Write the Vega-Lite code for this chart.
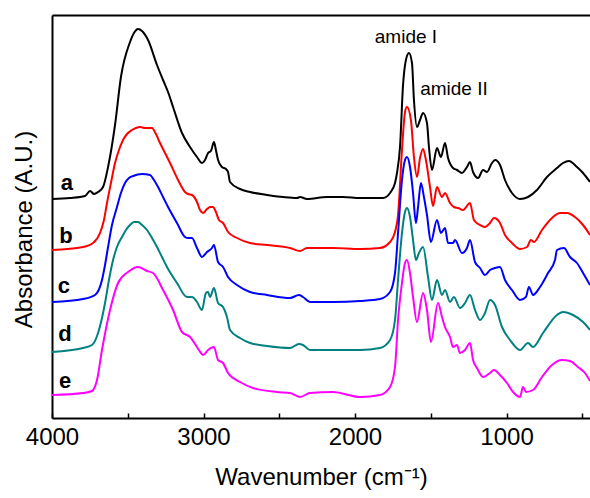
{
  "$schema": "https://vega.github.io/schema/vega-lite/v6.json",
  "width": 538,
  "height": 403,
  "autosize": {"type": "none"},
  "padding": {"left": 52, "top": 15, "right": 0, "bottom": 80},
  "background": "white",
  "config": {"view": {"stroke": null}, "font": "Liberation Sans"},
  "datasets": {
    "spectra": [
      {"sample":"a","wavenumber":4000,"absorbance":219},{"sample":"a","wavenumber":3881,"absorbance":220},{"sample":"a","wavenumber":3782,"absorbance":222},{"sample":"a","wavenumber":3749,"absorbance":227},{"sample":"a","wavenumber":3723,"absorbance":224},{"sample":"a","wavenumber":3696,"absorbance":226},{"sample":"a","wavenumber":3663,"absorbance":231},{"sample":"a","wavenumber":3630,"absorbance":251},{"sample":"a","wavenumber":3584,"absorbance":293},{"sample":"a","wavenumber":3545,"absorbance":341},{"sample":"a","wavenumber":3485,"absorbance":376},{"sample":"a","wavenumber":3459,"absorbance":385},{"sample":"a","wavenumber":3432,"absorbance":389},{"sample":"a","wavenumber":3406,"absorbance":387},{"sample":"a","wavenumber":3366,"absorbance":378},{"sample":"a","wavenumber":3307,"absorbance":353},{"sample":"a","wavenumber":3267,"absorbance":338},{"sample":"a","wavenumber":3234,"absorbance":326},{"sample":"a","wavenumber":3201,"absorbance":311},{"sample":"a","wavenumber":3142,"absorbance":285},{"sample":"a","wavenumber":3089,"absorbance":271},{"sample":"a","wavenumber":3043,"absorbance":261},{"sample":"a","wavenumber":3010,"absorbance":255},{"sample":"a","wavenumber":2990,"absorbance":258},{"sample":"a","wavenumber":2970,"absorbance":265},{"sample":"a","wavenumber":2951,"absorbance":267},{"sample":"a","wavenumber":2931,"absorbance":276},{"sample":"a","wavenumber":2918,"absorbance":268},{"sample":"a","wavenumber":2904,"absorbance":258},{"sample":"a","wavenumber":2878,"absorbance":251},{"sample":"a","wavenumber":2852,"absorbance":249},{"sample":"a","wavenumber":2838,"absorbance":246},{"sample":"a","wavenumber":2825,"absorbance":236},{"sample":"a","wavenumber":2759,"absorbance":229},{"sample":"a","wavenumber":2693,"absorbance":226},{"sample":"a","wavenumber":2581,"absorbance":223},{"sample":"a","wavenumber":2475,"absorbance":221},{"sample":"a","wavenumber":2383,"absorbance":220},{"sample":"a","wavenumber":2363,"absorbance":221},{"sample":"a","wavenumber":2317,"absorbance":219},{"sample":"a","wavenumber":2185,"absorbance":221},{"sample":"a","wavenumber":2079,"absorbance":221},{"sample":"a","wavenumber":1967,"absorbance":220},{"sample":"a","wavenumber":1881,"absorbance":220},{"sample":"a","wavenumber":1815,"absorbance":220},{"sample":"a","wavenumber":1769,"absorbance":225},{"sample":"a","wavenumber":1736,"absorbance":235},{"sample":"a","wavenumber":1723,"absorbance":245},{"sample":"a","wavenumber":1703,"absorbance":271},{"sample":"a","wavenumber":1683,"absorbance":333},{"sample":"a","wavenumber":1664,"absorbance":358},{"sample":"a","wavenumber":1644,"absorbance":365},{"sample":"a","wavenumber":1624,"absorbance":355},{"sample":"a","wavenumber":1611,"absorbance":318},{"sample":"a","wavenumber":1591,"absorbance":291},{"sample":"a","wavenumber":1571,"absorbance":298},{"sample":"a","wavenumber":1551,"absorbance":305},{"sample":"a","wavenumber":1525,"absorbance":295},{"sample":"a","wavenumber":1512,"absorbance":271},{"sample":"a","wavenumber":1492,"absorbance":248},{"sample":"a","wavenumber":1459,"absorbance":270},{"sample":"a","wavenumber":1433,"absorbance":261},{"sample":"a","wavenumber":1406,"absorbance":275},{"sample":"a","wavenumber":1386,"absorbance":260},{"sample":"a","wavenumber":1353,"absorbance":250},{"sample":"a","wavenumber":1327,"absorbance":248},{"sample":"a","wavenumber":1294,"absorbance":245},{"sample":"a","wavenumber":1261,"absorbance":251},{"sample":"a","wavenumber":1241,"absorbance":256},{"sample":"a","wavenumber":1221,"absorbance":246},{"sample":"a","wavenumber":1188,"absorbance":240},{"sample":"a","wavenumber":1155,"absorbance":248},{"sample":"a","wavenumber":1129,"absorbance":246},{"sample":"a","wavenumber":1096,"absorbance":255},{"sample":"a","wavenumber":1076,"absorbance":258},{"sample":"a","wavenumber":1043,"absorbance":253},{"sample":"a","wavenumber":1010,"absorbance":238},{"sample":"a","wavenumber":964,"absorbance":225},{"sample":"a","wavenumber":911,"absorbance":219},{"sample":"a","wavenumber":858,"absorbance":221},{"sample":"a","wavenumber":799,"absorbance":228},{"sample":"a","wavenumber":733,"absorbance":241},{"sample":"a","wavenumber":667,"absorbance":250},{"sample":"a","wavenumber":627,"absorbance":255},{"sample":"a","wavenumber":588,"absorbance":257},{"sample":"a","wavenumber":535,"absorbance":251},{"sample":"a","wavenumber":495,"absorbance":245},{"sample":"a","wavenumber":449,"absorbance":236},

      {"sample":"b","wavenumber":4000,"absorbance":168},{"sample":"b","wavenumber":3795,"absorbance":171},{"sample":"b","wavenumber":3729,"absorbance":175},{"sample":"b","wavenumber":3683,"absorbance":185},{"sample":"b","wavenumber":3657,"absorbance":198},{"sample":"b","wavenumber":3637,"absorbance":215},{"sample":"b","wavenumber":3611,"absorbance":235},{"sample":"b","wavenumber":3584,"absorbance":255},{"sample":"b","wavenumber":3558,"absorbance":268},{"sample":"b","wavenumber":3531,"absorbance":278},{"sample":"b","wavenumber":3505,"absorbance":284},{"sample":"b","wavenumber":3472,"absorbance":288},{"sample":"b","wavenumber":3446,"absorbance":290},{"sample":"b","wavenumber":3419,"absorbance":291},{"sample":"b","wavenumber":3386,"absorbance":290},{"sample":"b","wavenumber":3340,"absorbance":290},{"sample":"b","wavenumber":3314,"absorbance":284},{"sample":"b","wavenumber":3287,"absorbance":275},{"sample":"b","wavenumber":3254,"absorbance":265},{"sample":"b","wavenumber":3221,"absorbance":255},{"sample":"b","wavenumber":3168,"absorbance":238},{"sample":"b","wavenumber":3122,"absorbance":226},{"sample":"b","wavenumber":3102,"absorbance":224},{"sample":"b","wavenumber":3076,"absorbance":223},{"sample":"b","wavenumber":3043,"absorbance":216},{"sample":"b","wavenumber":3023,"absorbance":208},{"sample":"b","wavenumber":3003,"absorbance":205},{"sample":"b","wavenumber":2977,"absorbance":209},{"sample":"b","wavenumber":2957,"absorbance":211},{"sample":"b","wavenumber":2937,"absorbance":211},{"sample":"b","wavenumber":2918,"absorbance":206},{"sample":"b","wavenumber":2898,"absorbance":198},{"sample":"b","wavenumber":2871,"absorbance":195},{"sample":"b","wavenumber":2838,"absorbance":186},{"sample":"b","wavenumber":2779,"absorbance":180},{"sample":"b","wavenumber":2693,"absorbance":175},{"sample":"b","wavenumber":2581,"absorbance":173},{"sample":"b","wavenumber":2429,"absorbance":170},{"sample":"b","wavenumber":2363,"absorbance":167},{"sample":"b","wavenumber":2317,"absorbance":170},{"sample":"b","wavenumber":2145,"absorbance":170},{"sample":"b","wavenumber":1967,"absorbance":169},{"sample":"b","wavenumber":1835,"absorbance":170},{"sample":"b","wavenumber":1769,"absorbance":176},{"sample":"b","wavenumber":1736,"absorbance":186},{"sample":"b","wavenumber":1716,"absorbance":203},{"sample":"b","wavenumber":1690,"absorbance":268},{"sample":"b","wavenumber":1670,"absorbance":306},{"sample":"b","wavenumber":1657,"absorbance":311},{"sample":"b","wavenumber":1631,"absorbance":298},{"sample":"b","wavenumber":1611,"absorbance":261},{"sample":"b","wavenumber":1591,"absorbance":241},{"sample":"b","wavenumber":1571,"absorbance":260},{"sample":"b","wavenumber":1551,"absorbance":269},{"sample":"b","wavenumber":1532,"absorbance":258},{"sample":"b","wavenumber":1505,"absorbance":231},{"sample":"b","wavenumber":1485,"absorbance":212},{"sample":"b","wavenumber":1459,"absorbance":231},{"sample":"b","wavenumber":1426,"absorbance":221},{"sample":"b","wavenumber":1406,"absorbance":225},{"sample":"b","wavenumber":1373,"absorbance":215},{"sample":"b","wavenumber":1347,"absorbance":211},{"sample":"b","wavenumber":1320,"absorbance":210},{"sample":"b","wavenumber":1287,"absorbance":208},{"sample":"b","wavenumber":1241,"absorbance":215},{"sample":"b","wavenumber":1215,"absorbance":198},{"sample":"b","wavenumber":1175,"absorbance":193},{"sample":"b","wavenumber":1142,"absorbance":191},{"sample":"b","wavenumber":1109,"absorbance":195},{"sample":"b","wavenumber":1083,"absorbance":200},{"sample":"b","wavenumber":1043,"absorbance":195},{"sample":"b","wavenumber":1010,"absorbance":183},{"sample":"b","wavenumber":964,"absorbance":175},{"sample":"b","wavenumber":911,"absorbance":169},{"sample":"b","wavenumber":865,"absorbance":171},{"sample":"b","wavenumber":839,"absorbance":178},{"sample":"b","wavenumber":819,"absorbance":176},{"sample":"b","wavenumber":766,"absorbance":188},{"sample":"b","wavenumber":700,"absorbance":200},{"sample":"b","wavenumber":647,"absorbance":205},{"sample":"b","wavenumber":601,"absorbance":205},{"sample":"b","wavenumber":548,"absorbance":201},{"sample":"b","wavenumber":495,"absorbance":193},{"sample":"b","wavenumber":449,"absorbance":183},

      {"sample":"c","wavenumber":4000,"absorbance":116},{"sample":"c","wavenumber":3795,"absorbance":119},{"sample":"c","wavenumber":3716,"absorbance":123},{"sample":"c","wavenumber":3670,"absorbance":138},{"sample":"c","wavenumber":3650,"absorbance":153},{"sample":"c","wavenumber":3630,"absorbance":171},{"sample":"c","wavenumber":3604,"absorbance":193},{"sample":"c","wavenumber":3571,"absorbance":211},{"sample":"c","wavenumber":3545,"absorbance":225},{"sample":"c","wavenumber":3518,"absorbance":235},{"sample":"c","wavenumber":3492,"absorbance":240},{"sample":"c","wavenumber":3465,"absorbance":242},{"sample":"c","wavenumber":3406,"absorbance":244},{"sample":"c","wavenumber":3353,"absorbance":243},{"sample":"c","wavenumber":3327,"absorbance":238},{"sample":"c","wavenumber":3300,"absorbance":231},{"sample":"c","wavenumber":3267,"absorbance":221},{"sample":"c","wavenumber":3234,"absorbance":211},{"sample":"c","wavenumber":3175,"absorbance":195},{"sample":"c","wavenumber":3122,"absorbance":181},{"sample":"c","wavenumber":3102,"absorbance":180},{"sample":"c","wavenumber":3076,"absorbance":180},{"sample":"c","wavenumber":3043,"absorbance":170},{"sample":"c","wavenumber":3010,"absorbance":161},{"sample":"c","wavenumber":2977,"absorbance":166},{"sample":"c","wavenumber":2944,"absorbance":170},{"sample":"c","wavenumber":2931,"absorbance":173},{"sample":"c","wavenumber":2904,"absorbance":156},{"sample":"c","wavenumber":2871,"absorbance":151},{"sample":"c","wavenumber":2838,"absorbance":141},{"sample":"c","wavenumber":2779,"absorbance":133},{"sample":"c","wavenumber":2693,"absorbance":126},{"sample":"c","wavenumber":2581,"absorbance":123},{"sample":"c","wavenumber":2429,"absorbance":120},{"sample":"c","wavenumber":2370,"absorbance":123},{"sample":"c","wavenumber":2343,"absorbance":121},{"sample":"c","wavenumber":2297,"absorbance":116},{"sample":"c","wavenumber":2145,"absorbance":116},{"sample":"c","wavenumber":1967,"absorbance":117},{"sample":"c","wavenumber":1835,"absorbance":119},{"sample":"c","wavenumber":1769,"absorbance":126},{"sample":"c","wavenumber":1736,"absorbance":145},{"sample":"c","wavenumber":1716,"absorbance":185},{"sample":"c","wavenumber":1690,"absorbance":238},{"sample":"c","wavenumber":1670,"absorbance":258},{"sample":"c","wavenumber":1657,"absorbance":261},{"sample":"c","wavenumber":1637,"absorbance":251},{"sample":"c","wavenumber":1617,"absorbance":225},{"sample":"c","wavenumber":1598,"absorbance":195},{"sample":"c","wavenumber":1584,"absorbance":211},{"sample":"c","wavenumber":1565,"absorbance":235},{"sample":"c","wavenumber":1545,"absorbance":221},{"sample":"c","wavenumber":1525,"absorbance":203},{"sample":"c","wavenumber":1499,"absorbance":176},{"sample":"c","wavenumber":1459,"absorbance":198},{"sample":"c","wavenumber":1433,"absorbance":185},{"sample":"c","wavenumber":1406,"absorbance":190},{"sample":"c","wavenumber":1386,"absorbance":175},{"sample":"c","wavenumber":1353,"absorbance":175},{"sample":"c","wavenumber":1340,"absorbance":178},{"sample":"c","wavenumber":1294,"absorbance":165},{"sample":"c","wavenumber":1261,"absorbance":170},{"sample":"c","wavenumber":1241,"absorbance":178},{"sample":"c","wavenumber":1208,"absorbance":156},{"sample":"c","wavenumber":1175,"absorbance":150},{"sample":"c","wavenumber":1142,"absorbance":143},{"sample":"c","wavenumber":1109,"absorbance":148},{"sample":"c","wavenumber":1076,"absorbance":150},{"sample":"c","wavenumber":1043,"absorbance":151},{"sample":"c","wavenumber":1010,"absorbance":138},{"sample":"c","wavenumber":964,"absorbance":128},{"sample":"c","wavenumber":911,"absorbance":118},{"sample":"c","wavenumber":872,"absorbance":121},{"sample":"c","wavenumber":852,"absorbance":131},{"sample":"c","wavenumber":825,"absorbance":123},{"sample":"c","wavenumber":779,"absorbance":131},{"sample":"c","wavenumber":726,"absorbance":145},{"sample":"c","wavenumber":680,"absorbance":158},{"sample":"c","wavenumber":667,"absorbance":168},{"sample":"c","wavenumber":621,"absorbance":170},{"sample":"c","wavenumber":581,"absorbance":161},{"sample":"c","wavenumber":535,"absorbance":155},{"sample":"c","wavenumber":495,"absorbance":145},{"sample":"c","wavenumber":449,"absorbance":133},

      {"sample":"d","wavenumber":4000,"absorbance":66},{"sample":"d","wavenumber":3795,"absorbance":70},{"sample":"d","wavenumber":3736,"absorbance":73},{"sample":"d","wavenumber":3696,"absorbance":85},{"sample":"d","wavenumber":3670,"absorbance":100},{"sample":"d","wavenumber":3650,"absorbance":115},{"sample":"d","wavenumber":3624,"absorbance":138},{"sample":"d","wavenumber":3597,"absorbance":158},{"sample":"d","wavenumber":3571,"absorbance":171},{"sample":"d","wavenumber":3538,"absorbance":181},{"sample":"d","wavenumber":3512,"absorbance":188},{"sample":"d","wavenumber":3485,"absorbance":193},{"sample":"d","wavenumber":3459,"absorbance":196},{"sample":"d","wavenumber":3432,"absorbance":196},{"sample":"d","wavenumber":3406,"absorbance":193},{"sample":"d","wavenumber":3373,"absorbance":188},{"sample":"d","wavenumber":3340,"absorbance":180},{"sample":"d","wavenumber":3307,"absorbance":171},{"sample":"d","wavenumber":3274,"absorbance":161},{"sample":"d","wavenumber":3241,"absorbance":151},{"sample":"d","wavenumber":3175,"absorbance":135},{"sample":"d","wavenumber":3109,"absorbance":121},{"sample":"d","wavenumber":3076,"absorbance":121},{"sample":"d","wavenumber":3043,"absorbance":116},{"sample":"d","wavenumber":3010,"absorbance":108},{"sample":"d","wavenumber":2984,"absorbance":125},{"sample":"d","wavenumber":2970,"absorbance":126},{"sample":"d","wavenumber":2957,"absorbance":121},{"sample":"d","wavenumber":2931,"absorbance":130},{"sample":"d","wavenumber":2904,"absorbance":115},{"sample":"d","wavenumber":2871,"absorbance":111},{"sample":"d","wavenumber":2845,"absorbance":101},{"sample":"d","wavenumber":2825,"absorbance":88},{"sample":"d","wavenumber":2759,"absorbance":80},{"sample":"d","wavenumber":2693,"absorbance":75},{"sample":"d","wavenumber":2581,"absorbance":72},{"sample":"d","wavenumber":2429,"absorbance":70},{"sample":"d","wavenumber":2370,"absorbance":74},{"sample":"d","wavenumber":2343,"absorbance":73},{"sample":"d","wavenumber":2297,"absorbance":68},{"sample":"d","wavenumber":2145,"absorbance":68},{"sample":"d","wavenumber":1967,"absorbance":68},{"sample":"d","wavenumber":1835,"absorbance":70},{"sample":"d","wavenumber":1769,"absorbance":78},{"sample":"d","wavenumber":1736,"absorbance":98},{"sample":"d","wavenumber":1716,"absorbance":138},{"sample":"d","wavenumber":1690,"absorbance":185},{"sample":"d","wavenumber":1670,"absorbance":206},{"sample":"d","wavenumber":1657,"absorbance":210},{"sample":"d","wavenumber":1637,"absorbance":201},{"sample":"d","wavenumber":1617,"absorbance":178},{"sample":"d","wavenumber":1598,"absorbance":158},{"sample":"d","wavenumber":1578,"absorbance":165},{"sample":"d","wavenumber":1551,"absorbance":171},{"sample":"d","wavenumber":1518,"absorbance":141},{"sample":"d","wavenumber":1492,"absorbance":118},{"sample":"d","wavenumber":1459,"absorbance":138},{"sample":"d","wavenumber":1426,"absorbance":123},{"sample":"d","wavenumber":1406,"absorbance":128},{"sample":"d","wavenumber":1373,"absorbance":116},{"sample":"d","wavenumber":1347,"absorbance":121},{"sample":"d","wavenumber":1307,"absorbance":110},{"sample":"d","wavenumber":1274,"absorbance":115},{"sample":"d","wavenumber":1241,"absorbance":123},{"sample":"d","wavenumber":1208,"absorbance":108},{"sample":"d","wavenumber":1175,"absorbance":98},{"sample":"d","wavenumber":1142,"absorbance":105},{"sample":"d","wavenumber":1109,"absorbance":118},{"sample":"d","wavenumber":1076,"absorbance":113},{"sample":"d","wavenumber":1030,"absorbance":91},{"sample":"d","wavenumber":977,"absorbance":78},{"sample":"d","wavenumber":911,"absorbance":68},{"sample":"d","wavenumber":858,"absorbance":75},{"sample":"d","wavenumber":825,"absorbance":71},{"sample":"d","wavenumber":759,"absorbance":85},{"sample":"d","wavenumber":667,"absorbance":103},{"sample":"d","wavenumber":627,"absorbance":106},{"sample":"d","wavenumber":561,"absorbance":103},{"sample":"d","wavenumber":495,"absorbance":96},{"sample":"d","wavenumber":449,"absorbance":88},

      {"sample":"e","wavenumber":4000,"absorbance":23},{"sample":"e","wavenumber":3795,"absorbance":25},{"sample":"e","wavenumber":3736,"absorbance":27},{"sample":"e","wavenumber":3703,"absorbance":38},{"sample":"e","wavenumber":3670,"absorbance":68},{"sample":"e","wavenumber":3617,"absorbance":108},{"sample":"e","wavenumber":3564,"absorbance":135},{"sample":"e","wavenumber":3498,"absorbance":146},{"sample":"e","wavenumber":3432,"absorbance":151},{"sample":"e","wavenumber":3373,"absorbance":147},{"sample":"e","wavenumber":3333,"absorbance":145},{"sample":"e","wavenumber":3267,"absorbance":128},{"sample":"e","wavenumber":3201,"absorbance":108},{"sample":"e","wavenumber":3142,"absorbance":86},{"sample":"e","wavenumber":3089,"absorbance":81},{"sample":"e","wavenumber":3043,"absorbance":71},{"sample":"e","wavenumber":3017,"absorbance":65},{"sample":"e","wavenumber":3003,"absorbance":63},{"sample":"e","wavenumber":2970,"absorbance":68},{"sample":"e","wavenumber":2931,"absorbance":71},{"sample":"e","wavenumber":2904,"absorbance":58},{"sample":"e","wavenumber":2871,"absorbance":55},{"sample":"e","wavenumber":2838,"absorbance":45},{"sample":"e","wavenumber":2759,"absorbance":36},{"sample":"e","wavenumber":2673,"absorbance":30},{"sample":"e","wavenumber":2515,"absorbance":26},{"sample":"e","wavenumber":2429,"absorbance":25},{"sample":"e","wavenumber":2363,"absorbance":21},{"sample":"e","wavenumber":2297,"absorbance":25},{"sample":"e","wavenumber":2145,"absorbance":26},{"sample":"e","wavenumber":1967,"absorbance":21},{"sample":"e","wavenumber":1835,"absorbance":23},{"sample":"e","wavenumber":1769,"absorbance":31},{"sample":"e","wavenumber":1736,"absorbance":51},{"sample":"e","wavenumber":1716,"absorbance":98},{"sample":"e","wavenumber":1690,"absorbance":135},{"sample":"e","wavenumber":1670,"absorbance":155},{"sample":"e","wavenumber":1657,"absorbance":158},{"sample":"e","wavenumber":1637,"absorbance":145},{"sample":"e","wavenumber":1617,"absorbance":121},{"sample":"e","wavenumber":1591,"absorbance":96},{"sample":"e","wavenumber":1551,"absorbance":125},{"sample":"e","wavenumber":1525,"absorbance":108},{"sample":"e","wavenumber":1499,"absorbance":76},{"sample":"e","wavenumber":1452,"absorbance":115},{"sample":"e","wavenumber":1426,"absorbance":101},{"sample":"e","wavenumber":1406,"absorbance":91},{"sample":"e","wavenumber":1373,"absorbance":81},{"sample":"e","wavenumber":1353,"absorbance":71},{"sample":"e","wavenumber":1327,"absorbance":73},{"sample":"e","wavenumber":1307,"absorbance":65},{"sample":"e","wavenumber":1274,"absorbance":68},{"sample":"e","wavenumber":1241,"absorbance":75},{"sample":"e","wavenumber":1221,"absorbance":58},{"sample":"e","wavenumber":1195,"absorbance":50},{"sample":"e","wavenumber":1155,"absorbance":41},{"sample":"e","wavenumber":1109,"absorbance":45},{"sample":"e","wavenumber":1083,"absorbance":48},{"sample":"e","wavenumber":1043,"absorbance":43},{"sample":"e","wavenumber":997,"absorbance":35},{"sample":"e","wavenumber":957,"absorbance":26},{"sample":"e","wavenumber":911,"absorbance":21},{"sample":"e","wavenumber":891,"absorbance":31},{"sample":"e","wavenumber":872,"absorbance":26},{"sample":"e","wavenumber":825,"absorbance":28},{"sample":"e","wavenumber":766,"absorbance":41},{"sample":"e","wavenumber":700,"absorbance":53},{"sample":"e","wavenumber":634,"absorbance":58},{"sample":"e","wavenumber":581,"absorbance":57},{"sample":"e","wavenumber":529,"absorbance":51},{"sample":"e","wavenumber":482,"absorbance":45},{"sample":"e","wavenumber":449,"absorbance":37}
    ],
    "labels": [
      {"label":"a","wavenumber":3901,"absorbance":235},
      {"label":"b","wavenumber":3908,"absorbance":182},
      {"label":"c","wavenumber":3921,"absorbance":132},
      {"label":"d","wavenumber":3914,"absorbance":84},
      {"label":"e","wavenumber":3914,"absorbance":37}
    ],
    "annotations": [
      {"label":"amide I","wavenumber":1664,"absorbance":381},
      {"label":"amide II","wavenumber":1347,"absorbance":329}
    ]
  },
  "layer": [
    {
      "data": {"name": "spectra"},
      "mark": {"type": "line", "strokeWidth": 2, "clip": true, "interpolate": "monotone"},
      "encoding": {
        "x": {
          "field": "wavenumber", "type": "quantitative",
          "scale": {"domain": [4000, 449], "nice": false, "zero": false},
          "axis": {
            "orient": "bottom",
            "values": [4000, 3500, 3000, 2500, 2000, 1500, 1000, 500],
            "format": "d",
            "labelExpr": "datum.value % 1000 === 0 ? datum.label : ''",
            "labelFlush": false, "labelOverlap": false,
            "tickSize": -5, "tickWidth": 1.5, "tickColor": "black",
            "domainColor": "black", "domainWidth": 2,
            "labelFontSize": 24, "labelColor": "black", "labelPadding": 12,
            "labelFont": "Liberation Sans",
            "grid": false,
            "title": "Wavenumber (cm⁻¹)",
            "titleFont": "Liberation Sans", "titleFontSize": 24, "titleFontWeight": "normal",
            "titleColor": "black", "titlePadding": 16
          }
        },
        "y": {
          "field": "absorbance", "type": "quantitative",
          "scale": {"domain": [0, 403], "nice": false, "zero": false},
          "axis": {
            "ticks": false, "labels": false, "grid": false,
            "domainColor": "black", "domainWidth": 2,
            "title": "Absorbance (A.U.)",
            "titleFont": "Liberation Sans", "titleFontSize": 24, "titleFontWeight": "normal",
            "titleColor": "black", "titlePadding": 16, "titleY": 214
          }
        },
        "color": {
          "field": "sample", "type": "nominal",
          "scale": {"domain": ["a", "b", "c", "d", "e"], "range": ["#000000", "#ff0000", "#0000ff", "#008080", "#ff00ff"]},
          "legend": null
        }
      }
    },
    {
      "data": {"name": "labels"},
      "mark": {"type": "text", "fontWeight": "bold", "fontSize": 22, "font": "Liberation Sans", "color": "black", "baseline": "middle", "align": "center"},
      "encoding": {
        "x": {
          "field": "wavenumber", "type": "quantitative",
          "axis": {"orient": "top", "labels": false, "ticks": false, "title": null, "grid": false, "domainColor": "black", "domainWidth": 2}
        },
        "y": {"field": "absorbance", "type": "quantitative"},
        "text": {"field": "label", "type": "nominal"}
      }
    },
    {
      "data": {"name": "annotations"},
      "mark": {"type": "text", "fontSize": 19, "font": "Liberation Sans", "color": "black", "baseline": "middle", "align": "center"},
      "encoding": {
        "x": {"field": "wavenumber", "type": "quantitative", "axis": null},
        "y": {"field": "absorbance", "type": "quantitative"},
        "text": {"field": "label", "type": "nominal"}
      }
    }
  ],
  "resolve": {"axis": {"x": "independent"}}
}
